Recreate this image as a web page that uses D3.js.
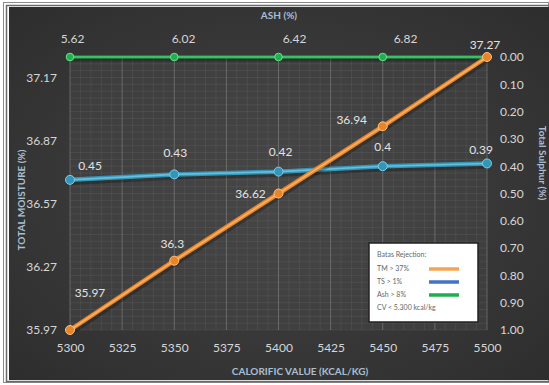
<!DOCTYPE html>
<html>
<head>
<meta charset="utf-8">
<script src="https://cdn.jsdelivr.net/npm/d3@7/dist/d3.min.js"></script>
<style>
  html, body { margin: 0; padding: 0; background: #ffffff; }
  svg { display: block; }
  text { font-family: Lato, "Open Sans", sans-serif; }
</style>
</head>
<body>
<svg id="chart" width="549" height="385"></svg>
<script>
// Calorific value (kcal/kg) on the bottom axis
const calorific = [5300, 5350, 5400, 5450, 5500];
// Total moisture (%) – left axis
const totalMoisture = [35.97, 36.3, 36.62, 36.94, 37.27];
// Total sulphur (%) – right axis (reversed)
const totalSulphur = [0.45, 0.43, 0.42, 0.4, 0.39];
// Ash (%) – top axis labels; the ash line runs along the top edge
const ashTicks = [5.62, 6.02, 6.42, 6.82];
const ashLevel = [0, 0, 0, 0, 0];

const tmTicks = [35.97, 36.27, 36.57, 36.87, 37.17];
const tsTicks = [0, 0.1, 0.2, 0.3, 0.4, 0.5, 0.6, 0.7, 0.8, 0.9, 1.0];
const cvTicks = [5300, 5325, 5350, 5375, 5400, 5425, 5450, 5475, 5500];

const legendTitle = "Batas Rejection:";
const legendItems = [
  { label: "TM > 37%", color: "#f3a552" },
  { label: "TS > 1%", color: "#4472c4" },
  { label: "Ash > 8%", color: "#1fae4f" }
];
const legendNote = "CV < 5.300 kcal/kg";

const svg = d3.select("#chart");
const defs = svg.append("defs");

const L = 70, R = 487, T = 57, B = 330;

const x = d3.scaleLinear().domain([5300, 5500]).range([L, R]);
const yTM = d3.scaleLinear().domain([35.97, 37.27]).range([B, T]);
const yTS = d3.scaleLinear().domain([0, 1]).range([T, B]);
const xAsh = d3.scaleLinear().domain([5.62, 6.82]).range([72, 405]);

// background gradient
const bg = defs.append("radialGradient").attr("id", "bg")
  .attr("cx", "50%").attr("cy", "50%").attr("r", "75%");
bg.append("stop").attr("offset", "0%").attr("stop-color", "#444444");
bg.append("stop").attr("offset", "100%").attr("stop-color", "#2c2c2c");

// outer frame
svg.append("rect").attr("x", 3.5).attr("y", 2.5).attr("width", 545).attr("height", 380)
  .attr("fill", "none").attr("stroke", "#8a8a8a").attr("stroke-width", 1);
svg.append("rect").attr("x", 6.5).attr("y", 5.5).attr("width", 545).attr("height", 376)
  .attr("fill", "none").attr("stroke", "#6a6a6a").attr("stroke-width", 1.5);
svg.append("rect").attr("x", 9).attr("y", 7).attr("width", 540).attr("height", 373)
  .attr("fill", "url(#bg)");

// plot area
svg.append("rect").attr("x", L).attr("y", T).attr("width", R - L).attr("height", B - T)
  .attr("fill", "#4a4a4a").attr("opacity", 0.45);

const grid = svg.append("g");
// fine mesh
d3.range(5300, 5501, 5).forEach(v => {
  grid.append("line").attr("x1", x(v)).attr("x2", x(v)).attr("y1", T).attr("y2", B)
    .attr("stroke", "#8c8c8c").attr("stroke-opacity", 0.25).attr("stroke-width", 0.6);
});
d3.range(0, 1.0001, 0.025).forEach(v => {
  grid.append("line").attr("x1", L).attr("x2", R).attr("y1", yTS(v)).attr("y2", yTS(v))
    .attr("stroke", "#8c8c8c").attr("stroke-opacity", 0.25).attr("stroke-width", 0.6);
});
// major verticals
cvTicks.forEach(v => {
  grid.append("line").attr("x1", x(v)).attr("x2", x(v)).attr("y1", T).attr("y2", B)
    .attr("stroke", "#b0b0b0").attr("stroke-opacity", 0.3).attr("stroke-width", 1);
});

// axes
const tickColor = "#d6d6d6";
function styleAxis(g, size) {
  g.select(".domain").remove();
  g.selectAll("line").remove();
  g.selectAll("text").attr("fill", tickColor).attr("font-size", size)
    .style("font-family", "Lato, sans-serif");
}
svg.append("g").attr("transform", `translate(${L},0)`)
  .call(d3.axisLeft(yTM).tickValues(tmTicks).tickFormat(d3.format(".2f")).tickSize(0).tickPadding(13))
  .call(g => styleAxis(g, 12));
svg.append("g").attr("transform", `translate(${R},0)`)
  .call(d3.axisRight(yTS).tickValues(tsTicks).tickFormat(d3.format(".2f")).tickSize(0).tickPadding(13))
  .call(g => styleAxis(g, 12));
svg.append("g").attr("transform", `translate(0,${B})`)
  .call(d3.axisBottom(x).tickValues(cvTicks).tickFormat(d3.format("d")).tickSize(0).tickPadding(13))
  .call(g => styleAxis(g, 12));
svg.append("g").attr("transform", `translate(0,${T})`)
  .call(d3.axisTop(xAsh).tickValues(ashTicks).tickFormat(d3.format(".2f")).tickSize(0).tickPadding(14))
  .call(g => styleAxis(g, 12));

// axis titles
const titleColor = "#a9bfd2";
svg.append("text").attr("x", 300).attr("y", 375).attr("text-anchor", "middle")
  .attr("fill", titleColor).attr("font-size", 10).attr("font-weight", 700)
  .text("CALORIFIC VALUE (KCAL/KG)");
svg.append("text").attr("x", 279).attr("y", 19).attr("text-anchor", "middle")
  .attr("fill", titleColor).attr("font-size", 10).attr("font-weight", 700)
  .text("ASH (%)");
svg.append("text").attr("transform", "translate(25,200) rotate(-90)").attr("text-anchor", "middle")
  .attr("fill", titleColor).attr("font-size", 10).attr("font-weight", 700)
  .text("TOTAL MOISTURE (%)");
svg.append("text").attr("transform", "translate(539,163) rotate(90)").attr("text-anchor", "middle")
  .attr("fill", titleColor).attr("font-size", 10).attr("font-weight", 700)
  .text("Total Sulphur (%)");

// series
const tmPts = calorific.map((c, i) => [x(c), yTM(totalMoisture[i])]);
const tsPts = calorific.map((c, i) => [x(c), yTS(totalSulphur[i])]);
const ashPts = calorific.map((c, i) => [x(c), yTS(ashLevel[i])]);
const line = d3.line();

function series(pts, color, light, width, r) {
  const g = svg.append("g");
  g.append("path").attr("d", line(pts)).attr("fill", "none")
    .attr("stroke", "#000").attr("stroke-opacity", 0.25).attr("stroke-width", width + 2)
    .attr("transform", "translate(1,2)");
  g.append("path").attr("d", line(pts)).attr("fill", "none")
    .attr("stroke", color).attr("stroke-width", width).attr("stroke-linecap", "round");
  g.append("path").attr("d", line(pts)).attr("fill", "none")
    .attr("stroke", light).attr("stroke-width", width * 0.35).attr("stroke-opacity", 0.7);
  g.selectAll("circle").data(pts).join("circle")
    .attr("cx", d => d[0]).attr("cy", d => d[1]).attr("r", r)
    .attr("fill", color).attr("stroke", light).attr("stroke-width", 1);
}
series(ashPts, "#1fb04f", "#6fe08f", 3.2, 3.8);
series(tsPts, "#3396b8", "#7fd0ea", 4.5, 4.5);
series(tmPts, "#e8852c", "#ffc27a", 4.5, 4.5);

// data labels
const labelColor = "#e2e2e2";
const tmOffsets = [[20, -37], [-2, -17], [-28, 0], [-31, -6], [-2, -12]];
totalMoisture.forEach((v, i) => {
  svg.append("text").attr("x", tmPts[i][0] + tmOffsets[i][0]).attr("y", tmPts[i][1] + tmOffsets[i][1] + 4)
    .attr("text-anchor", "middle").attr("fill", labelColor).attr("font-size", 12).text(v);
});
const tsOffsets = [[20, -14], [1, -21], [2, -20], [0, -19], [-6, -13]];
totalSulphur.forEach((v, i) => {
  svg.append("text").attr("x", tsPts[i][0] + tsOffsets[i][0]).attr("y", tsPts[i][1] + tsOffsets[i][1] + 4)
    .attr("text-anchor", "middle").attr("fill", labelColor).attr("font-size", 12).text(v);
});

// legend
const lg = svg.append("g").attr("transform", "translate(369,243)");
lg.append("rect").attr("width", 109).attr("height", 79).attr("fill", "#ffffff")
  .attr("stroke", "#222").attr("stroke-width", 1.5);
lg.append("text").attr("x", 8).attr("y", 14).attr("font-size", 7).attr("fill", "#666").text(legendTitle);
legendItems.forEach((d, i) => {
  const yy = 28 + i * 13;
  lg.append("text").attr("x", 8).attr("y", yy).attr("font-size", 7).attr("fill", "#666").text(d.label);
  lg.append("line").attr("x1", 60).attr("x2", 90).attr("y1", yy - 2).attr("y2", yy - 2)
    .attr("stroke", d.color).attr("stroke-width", 3.5);
});
lg.append("text").attr("x", 8).attr("y", 67).attr("font-size", 7).attr("fill", "#666").text(legendNote);
</script>
</body>
</html>
